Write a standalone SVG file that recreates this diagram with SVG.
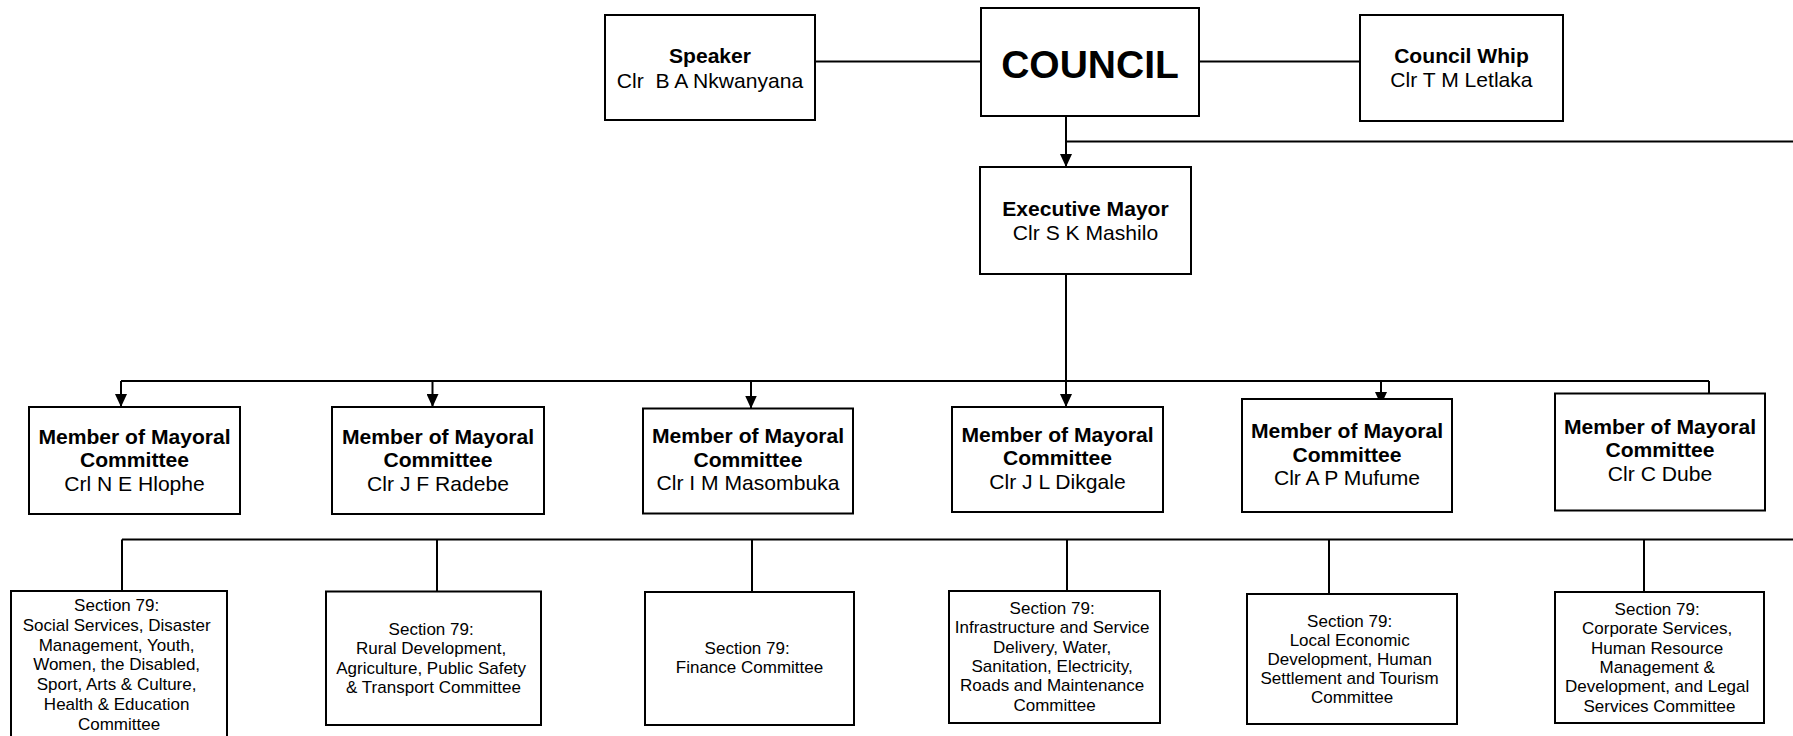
<svg xmlns="http://www.w3.org/2000/svg" width="1793" height="736" viewBox="0 0 1793 736">
  <style>
    .box { fill: #fff; stroke: #000; stroke-width: 2; }
    .wire { fill: none; stroke: #000; stroke-width: 2; }
    text { font-family: "Liberation Sans", Arial, sans-serif; fill: #000; text-anchor: middle; }
    .big { font-size: 39px; font-weight: bold; }
    .title { font-size: 20px; font-weight: bold; }
    .name { font-size: 20px; }
    .sec { font-size: 17px; }
    .wide { transform-box: fill-box; transform-origin: center; transform: scaleX(1.055); }
  </style>
  <defs>
    <marker id="arrow" markerUnits="userSpaceOnUse" markerWidth="13" markerHeight="12" refX="13" refY="6" orient="auto">
      <path d="M0,0 L13,6 L0,12 Z" fill="#000"/>
    </marker>
  </defs>

  <!-- connectors -->
  <g id="connectors">
    <path class="wire" d="M815,61.5 H981"/>
    <path class="wire" d="M1199,61.5 H1360"/>
    <path class="wire" d="M1066,116 V167" marker-end="url(#arrow)"/>
    <path class="wire" d="M1066,141.5 H1793"/>
    <path class="wire" d="M1066,274 V407" marker-end="url(#arrow)"/>
    <path class="wire" d="M121,381 H1709"/>
    <path class="wire" d="M121,381 V407" marker-end="url(#arrow)"/>
    <path class="wire" d="M432.5,381 V407" marker-end="url(#arrow)"/>
    <path class="wire" d="M751,381 V408.5" marker-end="url(#arrow)"/>
    <path class="wire" d="M1381,381 V405" marker-end="url(#arrow)"/>
    <path class="wire" d="M1709,381 V407" marker-end="url(#arrow)"/>
    <path class="wire" d="M122,539.5 H1793"/>
    <path class="wire" d="M122,539.5 V591"/>
    <path class="wire" d="M437,539.5 V591.5"/>
    <path class="wire" d="M752,539.5 V592"/>
    <path class="wire" d="M1067,539.5 V591"/>
    <path class="wire" d="M1329,539.5 V594"/>
    <path class="wire" d="M1644,539.5 V592"/>
  </g>

  <!-- top row -->
  <g id="speaker">
    <rect class="box" x="605" y="15" width="210" height="105"/>
    <text class="title wide" x="710" y="63">Speaker</text>
    <text class="name wide" x="710" y="88">Clr&#160; B A Nkwanyana</text>
  </g>
  <g id="council">
    <rect class="box" x="981" y="8" width="218" height="108"/>
    <text class="big" x="1090" y="78">COUNCIL</text>
  </g>
  <g id="council-whip">
    <rect class="box" x="1360" y="15" width="203" height="106"/>
    <text class="title wide" x="1461.5" y="63">Council Whip</text>
    <text class="name wide" x="1461.5" y="87.5">Clr T M Letlaka</text>
  </g>

  <g id="executive-mayor">
    <rect class="box" x="980" y="167" width="211" height="107"/>
    <text class="title wide" x="1085.5" y="216">Executive Mayor</text>
    <text class="name wide" x="1085.5" y="240.5">Clr S K Mashilo</text>
  </g>

  <!-- members of the mayoral committee -->
  <g id="mmc-hlophe">
    <rect class="box" x="29" y="407" width="211" height="107"/>
    <text class="title wide" x="134.5" y="444">Member of Mayoral</text>
    <text class="title wide" x="134.5" y="467.5">Committee</text>
    <text class="name wide" x="134.5" y="491">Crl N E Hlophe</text>
  </g>
  <g id="mmc-radebe">
    <rect class="box" x="332" y="407" width="212" height="107"/>
    <text class="title wide" x="438" y="444">Member of Mayoral</text>
    <text class="title wide" x="438" y="467.5">Committee</text>
    <text class="name wide" x="438" y="491">Clr J F Radebe</text>
  </g>
  <g id="mmc-masombuka">
    <rect class="box" x="643" y="408.5" width="210" height="105"/>
    <text class="title wide" x="748" y="443.5">Member of Mayoral</text>
    <text class="title wide" x="748" y="467">Committee</text>
    <text class="name wide" x="748" y="490.5">Clr I M Masombuka</text>
  </g>
  <g id="mmc-dikgale">
    <rect class="box" x="952" y="407" width="211" height="105"/>
    <text class="title wide" x="1057.5" y="442">Member of Mayoral</text>
    <text class="title wide" x="1057.5" y="465.5">Committee</text>
    <text class="name wide" x="1057.5" y="489">Clr J L Dikgale</text>
  </g>
  <g id="mmc-mufume">
    <rect class="box" x="1242" y="399" width="210" height="113"/>
    <text class="title wide" x="1347" y="438.5">Member of Mayoral</text>
    <text class="title wide" x="1347" y="462">Committee</text>
    <text class="name wide" x="1347" y="485.5">Clr A P Mufume</text>
  </g>
  <g id="mmc-dube">
    <rect class="box" x="1555" y="393.5" width="210" height="117"/>
    <text class="title wide" x="1660" y="434">Member of Mayoral</text>
    <text class="title wide" x="1660" y="457.5">Committee</text>
    <text class="name wide" x="1660" y="481">Clr C Dube</text>
  </g>

  <!-- section 79 committees -->
  <g id="s79-social">
    <rect class="box" x="11" y="591" width="216" height="160"/>
    <text class="sec" x="119" y="611">
      <tspan x="119">Section 79:</tspan>
      <tspan x="119" dy="19.8">Social Services, Disaster</tspan>
      <tspan x="119" dy="19.8">Management, Youth,</tspan>
      <tspan x="119" dy="19.8">Women, the Disabled,</tspan>
      <tspan x="119" dy="19.8">Sport, Arts &amp; Culture,</tspan>
      <tspan x="119" dy="19.8">Health &amp; Education</tspan>
      <tspan x="119" dy="19.8">Committee</tspan>
    </text>
  </g>
  <g id="s79-rural">
    <rect class="box" x="326" y="591.5" width="215" height="133.5"/>
    <text class="sec" x="433.5" y="635">
      <tspan x="433.5">Section 79:</tspan>
      <tspan x="433.5" dy="19.4">Rural Development,</tspan>
      <tspan x="433.5" dy="19.4">Agriculture, Public Safety</tspan>
      <tspan x="433.5" dy="19.4">&amp; Transport Committee</tspan>
    </text>
  </g>
  <g id="s79-finance">
    <rect class="box" x="645" y="592" width="209" height="133"/>
    <text class="sec" x="749.5" y="654">
      <tspan x="749.5">Section 79:</tspan>
      <tspan x="749.5" dy="19.4">Finance Committee</tspan>
    </text>
  </g>
  <g id="s79-infrastructure">
    <rect class="box" x="949" y="591" width="211" height="132"/>
    <text class="sec" x="1054.5" y="614">
      <tspan x="1054.5">Section 79:</tspan>
      <tspan x="1054.5" dy="19.3">Infrastructure and Service</tspan>
      <tspan x="1054.5" dy="19.3">Delivery, Water,</tspan>
      <tspan x="1054.5" dy="19.3">Sanitation, Electricity,</tspan>
      <tspan x="1054.5" dy="19.3">Roads and Maintenance</tspan>
      <tspan x="1054.5" dy="19.3">Committee</tspan>
    </text>
  </g>
  <g id="s79-led">
    <rect class="box" x="1247" y="594" width="210" height="130"/>
    <text class="sec" x="1352" y="626.5">
      <tspan x="1352">Section 79:</tspan>
      <tspan x="1352" dy="19.2">Local Economic</tspan>
      <tspan x="1352" dy="19.2">Development, Human</tspan>
      <tspan x="1352" dy="19.2">Settlement and Tourism</tspan>
      <tspan x="1352" dy="19.2">Committee</tspan>
    </text>
  </g>
  <g id="s79-corporate">
    <rect class="box" x="1555" y="592" width="209" height="131"/>
    <text class="sec" x="1659.5" y="615">
      <tspan x="1659.5">Section 79:</tspan>
      <tspan x="1659.5" dy="19.3">Corporate Services,</tspan>
      <tspan x="1659.5" dy="19.3">Human Resource</tspan>
      <tspan x="1659.5" dy="19.3">Management &amp;</tspan>
      <tspan x="1659.5" dy="19.3">Development, and Legal</tspan>
      <tspan x="1659.5" dy="19.3">Services Committee</tspan>
    </text>
  </g>
</svg>
